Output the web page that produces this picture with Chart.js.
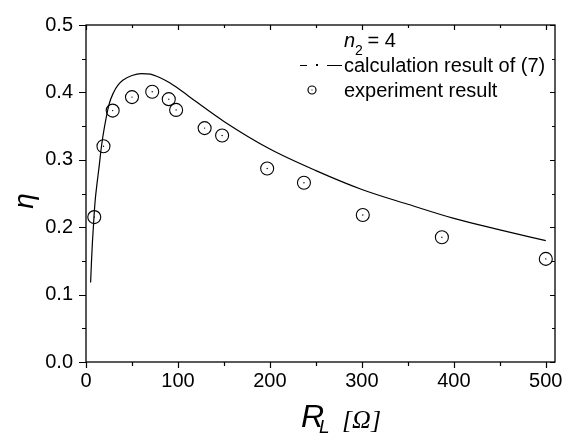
<!DOCTYPE html>
<html>
<head>
<meta charset="utf-8">
<script src="https://cdn.jsdelivr.net/npm/chart.js@4"></script>
<style>
  html, body { margin: 0; padding: 0; background: #ffffff; }
  #wrap { width: 570px; height: 441px; }
</style>
</head>
<body>
<div id="wrap"><canvas id="c" width="570" height="441"></canvas></div>
<script>
// Measured efficiency versus load resistance (n2 = 4)
const loadMeasured = [9, 19, 29, 50, 72, 90, 98, 129, 148, 197, 237, 301, 387, 500];
const etaMeasured  = [0.215, 0.320, 0.373, 0.393, 0.401, 0.390, 0.374, 0.347, 0.336, 0.287, 0.266, 0.218, 0.185, 0.153];

// Calculated efficiency, eq. (7)
const loadCalc = [5, 6, 7, 8, 9, 10, 12, 14, 17, 20, 25, 30, 35, 40, 50, 60, 70, 80, 90, 100, 120, 150, 200, 250, 300, 350, 400, 450, 500];
const etaCalc  = [0.118, 0.150, 0.178, 0.200, 0.222, 0.240, 0.265, 0.287, 0.322, 0.348, 0.382, 0.400, 0.411, 0.418, 0.425, 0.428, 0.427, 0.422, 0.415, 0.406, 0.386, 0.357, 0.316, 0.284, 0.256, 0.234, 0.213, 0.196, 0.180];

const xTicks = [0, 100, 200, 300, 400, 500];
const xMinor = [50, 150, 250, 350, 450];
const yTicks = [0.0, 0.1, 0.2, 0.3, 0.4, 0.5];
const yMinor = [0.05, 0.15, 0.25, 0.35, 0.45];

const FONT = '"Liberation Sans", Arial, sans-serif';
const SERIF = '"Liberation Serif", "Times New Roman", serif';

const toPoints = (xs, ys) => xs.map((x, i) => ({ x: x, y: ys[i] }));

// Frame, tick marks, axis titles and the key
const decorations = {
  id: 'decorations',
  afterDatasetsDraw(chart) {
    const ctx = chart.ctx;
    const a = chart.chartArea;
    const xs = chart.scales.x, ys = chart.scales.y;
    ctx.save();
    ctx.strokeStyle = '#000';
    ctx.lineWidth = 1.3;
    ctx.strokeRect(a.left, a.top, a.right - a.left, a.bottom - a.top);

    ctx.lineWidth = 1.2;
    ctx.beginPath();
    const tickX = (v, len, top) => {
      const p = Math.round(xs.getPixelForValue(v)) + 0.5;
      ctx.moveTo(p, a.bottom); ctx.lineTo(p, a.bottom + len);
      ctx.moveTo(p, a.top); ctx.lineTo(p, a.top + top);
    };
    const tickY = (v, len, right) => {
      const p = Math.round(ys.getPixelForValue(v)) + 0.5;
      ctx.moveTo(a.left, p); ctx.lineTo(a.left - len, p);
      ctx.moveTo(a.right, p); ctx.lineTo(a.right - right, p);
    };
    xTicks.forEach(v => tickX(v, 6, 5));
    xMinor.forEach(v => tickX(v, 4, 3));
    yTicks.forEach(v => tickY(v, 7, 5));
    yMinor.forEach(v => tickY(v, 4, 3));
    ctx.stroke();

    // y title
    ctx.fillStyle = '#000';
    ctx.save();
    ctx.translate(25, 201);
    ctx.rotate(-Math.PI / 2);
    ctx.font = 'italic 28px ' + FONT;
    ctx.textAlign = 'center';
    ctx.textBaseline = 'middle';
    ctx.fillText('η', 0, 0);
    ctx.restore();

    // x title
    ctx.textAlign = 'left';
    ctx.textBaseline = 'alphabetic';
    ctx.font = 'italic 32px ' + FONT;
    ctx.fillText('R', 301, 427);
    ctx.font = 'italic 19px ' + FONT;
    ctx.fillText('L', 319, 433);
    ctx.font = 'italic 26px ' + SERIF;
    ctx.fillText('[Ω]', 342, 428);

    // key
    const kx = 344;
    ctx.font = 'italic 20px ' + FONT;
    ctx.fillText('n', kx, 47);
    const nW = ctx.measureText('n').width;
    ctx.font = '14px ' + FONT;
    ctx.fillText('2', kx + nW, 55);
    const sW = ctx.measureText('2').width;
    ctx.font = '20px ' + FONT;
    ctx.fillText(' = 4', kx + nW + sW - 1, 47);

    ctx.fillText('calculation result of (7)', kx, 72);
    ctx.lineWidth = 1.2;
    ctx.beginPath();
    ctx.moveTo(300, 65.5); ctx.lineTo(307, 65.5);
    ctx.moveTo(327, 65.5); ctx.lineTo(342, 65.5);
    ctx.stroke();
    ctx.fillRect(316, 64, 2, 2);

    ctx.fillText('experiment result', kx, 97);
    ctx.beginPath();
    ctx.arc(312, 90, 4, 0, Math.PI * 2);
    ctx.stroke();
    ctx.fillRect(311.5, 89.5, 1, 1);
    ctx.restore();
  }
};

new Chart(document.getElementById('c'), {
  type: 'scatter',
  data: {
    datasets: [
      {
        label: 'calculation result of (7)',
        data: toPoints(loadCalc, etaCalc),
        showLine: true,
        borderColor: '#000',
        borderWidth: 1.2,
        pointRadius: 0,
        cubicInterpolationMode: 'monotone',
        fill: false
      },
      {
        label: 'experiment result',
        data: toPoints(loadMeasured, etaMeasured),
        showLine: false,
        pointStyle: 'circle',
        pointRadius: 6.5,
        pointBorderWidth: 1.1,
        pointBorderColor: '#000',
        pointBackgroundColor: 'rgba(0,0,0,0)'
      },
      {
        label: 'experiment centre',
        data: toPoints(loadMeasured, etaMeasured),
        showLine: false,
        pointRadius: 0.7,
        pointBorderWidth: 0,
        pointBackgroundColor: '#000'
      }
    ]
  },
  options: {
    responsive: false,
    animation: false,
    devicePixelRatio: 1,
    layout: { padding: { top: 16, right: 15, left: 0, bottom: 0 } },
    plugins: { legend: { display: false }, tooltip: { enabled: false } },
    scales: {
      x: {
        type: 'linear',
        min: 0,
        max: 510,
        afterBuildTicks: s => { s.ticks = xTicks.map(v => ({ value: v })); },
        afterFit: s => { s.height = 79; },
        grid: { display: false, drawTicks: false },
        border: { display: false },
        ticks: {
          color: '#000',
          font: { family: FONT, size: 20 },
          padding: 7,
          maxRotation: 0,
          callback: v => String(v)
        }
      },
      y: {
        type: 'linear',
        min: 0,
        max: 0.5,
        afterBuildTicks: s => { s.ticks = yTicks.map(v => ({ value: v })); },
        afterFit: s => { s.width = 86; },
        grid: { display: false, drawTicks: false },
        border: { display: false },
        ticks: {
          color: '#000',
          font: { family: FONT, size: 20 },
          padding: 13,
          callback: v => Number(v).toFixed(1)
        }
      }
    }
  },
  plugins: [decorations]
});
</script>
</body>
</html>
